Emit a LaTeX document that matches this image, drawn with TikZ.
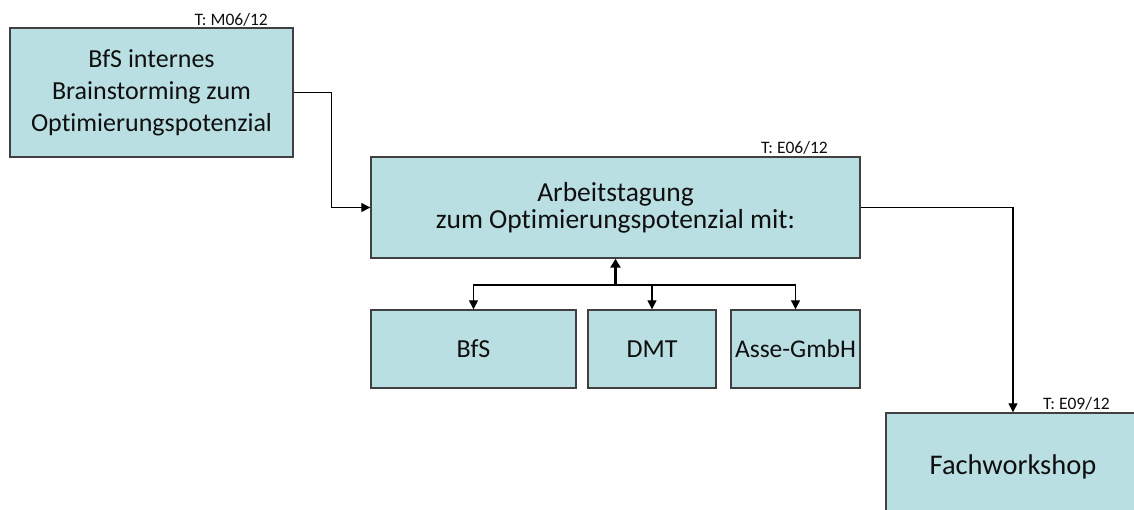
\documentclass[tikz,border=0pt]{standalone}
\usepackage{fontspec}
\setmainfont{Carlito}[Ligatures=NoCommon]
\usetikzlibrary{arrows.meta}
\definecolor{boxfill}{RGB}{185,223,227}
\definecolor{boxline}{RGB}{64,64,64}
\definecolor{txt}{RGB}{15,15,15}
\begin{document}
\begin{tikzpicture}[x=1pt,y=-1pt,
  box/.style={draw=boxline, line width=1.4pt, fill=boxfill, text=txt, align=center, inner sep=0pt},
  lab/.style={text=txt, font=\fontsize{17.5}{19}\selectfont, inner sep=0pt},
  arr/.style={draw=black, line width=1.2pt, -{Triangle[length=9pt,width=9pt]}},
  thickarr/.style={draw=black, line width=2.8pt, -{Triangle[length=9pt,width=10pt]}}]
\useasboundingbox (0,0) rectangle (1134,509);
\clip (0,0) rectangle (1134,509);
\fill[white] (0,0) rectangle (1134,509);

\node[box, minimum width=283pt, minimum height=129pt, font=\fontsize{26}{32}\selectfont] (b1) at (151.5,92.5)
  {BfS internes\\Brainstorming zum\\Optimierungspotenzial};
\node[box, minimum width=489pt, minimum height=101pt, font=\fontsize{27.5}{27}\selectfont] (b2) at (615.5,207.5)
  {Arbeitstagung\\zum Optimierungspotenzial mit:};
\node[box, minimum width=205pt, minimum height=78pt, font=\fontsize{26}{30}\selectfont] (bfs) at (473.5,349) {BfS};
\node[box, minimum width=128pt, minimum height=78pt, font=\fontsize{26}{30}\selectfont] (dmt) at (652,349) {DMT};
\node[box, minimum width=129pt, minimum height=78pt, font=\fontsize{25.5}{30}\selectfont] (asse) at (795.5,349) {Asse-GmbH};
\node[box, minimum width=254pt, minimum height=108pt, font=\fontsize{28.5}{32}\selectfont] (fach) at (1013,467) {Fachworkshop};

\node[lab, anchor=base east] (l1) at (268,25) {T: M06/12};
\node[lab, anchor=base east] (l2) at (828,153) {T: E06/12};
\node[lab, anchor=base east] (l3) at (1110,409) {T: E09/12};

\draw[arr] (b1.east) -- ++(38,0) |- (b2.west);
\draw[arr] (b2.east) -| (fach.north);

\coordinate (j) at (615.5,285);
\draw[arr] (j) -| (bfs.north);
\draw[arr] (j) -| (asse.north);
\draw[arr] (j -| dmt.north) -- (dmt.north);
\draw[thickarr] (j -| dmt.north) -- (j) -- (b2.south);
\end{tikzpicture}
\end{document}
